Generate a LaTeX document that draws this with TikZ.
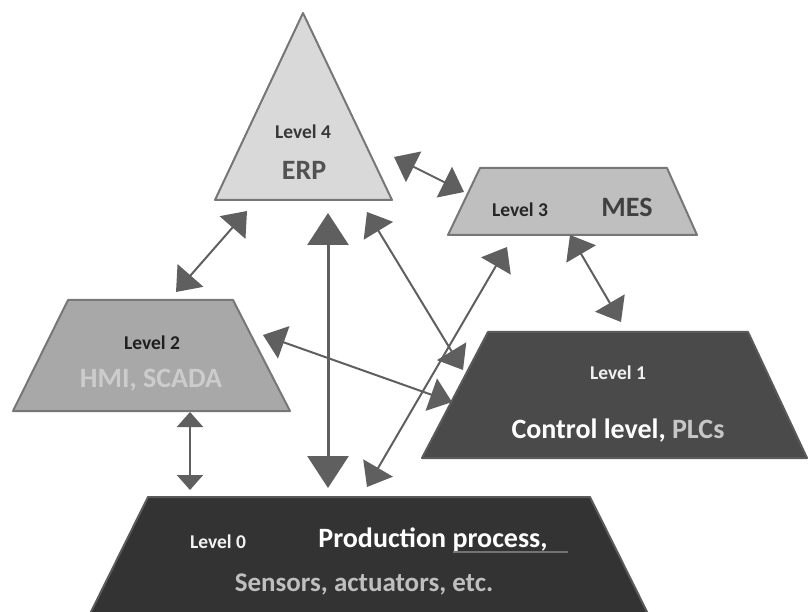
\documentclass[tikz,border=0pt]{standalone}
\usepackage{fontspec}
\setmainfont{Carlito}
\usetikzlibrary{arrows.meta}

% grey ramp for the five automation levels
\definecolor{lvfour}{HTML}{D9D9D9}
\definecolor{lvthree}{HTML}{BFBFBF}
\definecolor{lvtwo}{HTML}{A8A8A8}
\definecolor{lvone}{HTML}{4A4A4A}
\definecolor{lvzero}{HTML}{333333}
\definecolor{edgegray}{HTML}{777777}
\definecolor{darkedge}{HTML}{5A5A5A}
\definecolor{linkgray}{HTML}{5F5F5F}

\tikzset{
  layer/.style={draw=edgegray, line width=2pt, line join=round},
  darklayer/.style={draw=darkedge, line width=2pt, line join=round},
  levellabel/.style={font=\bfseries\fontsize{19.5}{21}\selectfont, inner sep=0pt},
  namelabel/.style={font=\bfseries\fontsize{28}{30}\selectfont, inner sep=0pt},
  link/.style={draw=linkgray, line width=2pt,
    {Triangle[length=22pt,width=34pt]}-{Triangle[length=22pt,width=34pt]}},
  biglink/.style={draw=linkgray, line width=3pt,
    {Triangle[length=32pt,width=41pt]}-{Triangle[length=32pt,width=41pt]}},
  shortlink/.style={draw=linkgray, line width=2pt,
    {Triangle[length=15pt,width=26pt]}-{Triangle[length=15pt,width=26pt]}},
}

\begin{document}
\begin{tikzpicture}[x=1pt,y=-1pt]
\useasboundingbox (0,0) rectangle (809,612);

% Level 0: production process (runs off the bottom edge)
\begin{scope}
  \clip (0,0) rectangle (809,612);
  \filldraw[darklayer, fill=lvzero] (148,497) -- (590,497) -- (656,630) -- (82,630) -- cycle;
\end{scope}

% Level 1: control level
\filldraw[darklayer, fill=lvone] (488,332) -- (748,332) -- (807,458) -- (422,458) -- cycle;

% Level 2: HMI / SCADA
\filldraw[layer, fill=lvtwo] (68,300) -- (233,300) -- (290,411) -- (13,411) -- cycle;

% Level 3: MES
\filldraw[layer, fill=lvthree] (480,168) -- (667,168) -- (697,235) -- (448,235) -- cycle;

% Level 4: ERP
\filldraw[layer, fill=lvfour] (303,13) -- (392,200) -- (215,200) -- cycle;

% labels
\node[levellabel, text=black!78] (l4) at (303,132) {Level 4};
\node[namelabel, text=black!68] (erp) at (304,170) {ERP};

\node[levellabel, text=black!85] (l3) at (520,210) {Level 3};
\node[namelabel, text=black!75] (mes) at (627,207) {MES};

\node[levellabel, text=black!88] (l2) at (152,343) {Level 2};
\node[namelabel, text=black!20] (hmi) at (151,380) {HMI, SCADA};

\node[levellabel, text=black!6] (l1) at (618,373) {Level 1};
\node[namelabel] (ctl) at (618,431) {\textcolor{white}{Control level,} \textcolor{black!22}{PLCs}};

\node[levellabel, text=black!5] (l0) at (218,542) {Level 0};
\node[namelabel, text=white] (prod) at (433,540) {Production process,};
\node[font=\bfseries\fontsize{27}{29}\selectfont, inner sep=0pt, text=black!25] (sens) at (364,584) {Sensors, actuators, etc.};
\coordinate (ulA) at (453,552);
\coordinate (ulB) at (568,552);
\draw[black!55, line width=1.5pt] (ulA) -- (ulB);

% link end points
\coordinate (a2) at (176,292);   \coordinate (a4) at (247,211);
\coordinate (b4) at (328,213);   \coordinate (b0) at (328,488);
\coordinate (c4) at (367,212);   \coordinate (c1) at (463,370);
\coordinate (d0) at (367,487);   \coordinate (d3) at (507,247);
\coordinate (e2) at (263,335);   \coordinate (e1) at (452,402);
\coordinate (f4) at (394,157);   \coordinate (f3) at (464,192);
\coordinate (g3) at (570,235);   \coordinate (g1) at (621,322);
\coordinate (h2) at (190,412);   \coordinate (h0) at (190,490);

% information flows between levels
\draw[link] (a2) -- (a4);
\draw[biglink] (b4) -- (b0);
\draw[link] (c4) -- (c1);
\draw[link] (d0) -- (d3);
\draw[link] (e2) -- (e1);
\draw[link] (f4) -- (f3);
\draw[link] (g3) -- (g1);
\draw[shortlink] (h2) -- (h0);
\end{tikzpicture}
\end{document}
